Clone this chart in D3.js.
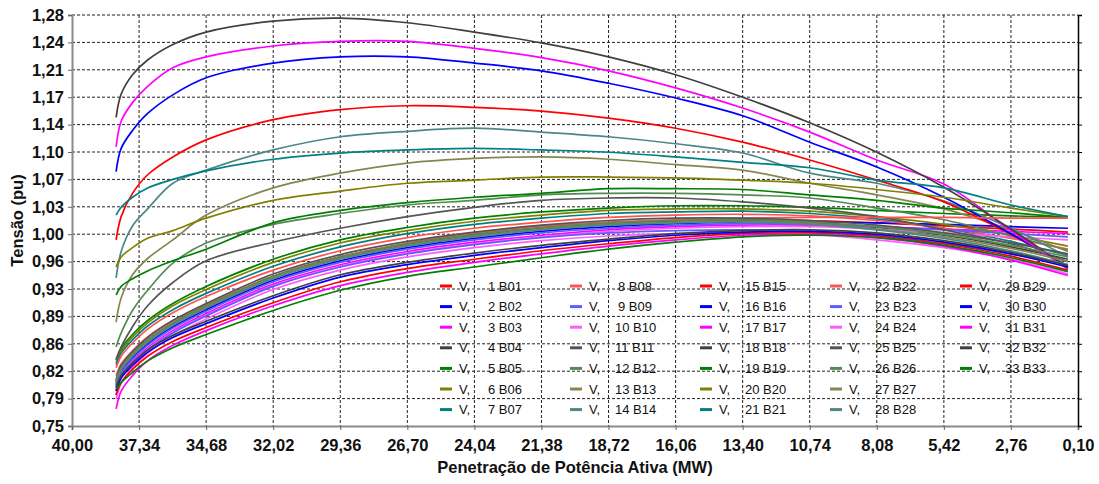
<!DOCTYPE html>
<html>
<head>
<meta charset="utf-8">
<script src="https://cdn.jsdelivr.net/npm/d3@7"></script>
<style>
  body { margin: 0; background: #fff; }
  svg text { font-family: "Liberation Sans", Arial, sans-serif; }
</style>
</head>
<body>
<svg id="grafico" width="1099" height="484"></svg>
<script>
// Penetração de potência ativa (MW) em que cada perfil de tensão foi avaliado
const penetracao = [38.25, 38.05, 37.6, 37.0, 36.0, 34.68, 32.02, 29.36, 26.70, 24.04, 21.38, 18.72, 16.06, 13.40, 10.74, 8.08, 5.42, 2.76, 0.5];

const xTickLabels = ["40,00","37,34","34,68","32,02","29,36","26,70","24,04","21,38","18,72","16,06","13,40","10,74","8,08","5,42","2,76","0,10"];
const yTickLabels = ["0,75","0,79","0,82","0,86","0,89","0,93","0,96","1,00","1,03","1,07","1,10","1,14","1,17","1,21","1,24","1,28"];

// Tensão (pu) em cada barra
const V01 = [0.808, 0.825, 0.843, 0.861, 0.883, 0.905, 0.943, 0.968, 0.985, 0.997, 1.006, 1.012, 1.015, 1.016, 1.015, 1.012, 1.008, 1.004, 1.000];
const V02 = [0.803, 0.820, 0.838, 0.856, 0.878, 0.900, 0.938, 0.963, 0.980, 0.992, 1.001, 1.007, 1.011, 1.013, 1.013, 1.012, 1.010, 1.007, 1.005];
const V03 = [0.798, 0.815, 0.833, 0.851, 0.873, 0.895, 0.933, 0.958, 0.975, 0.987, 0.996, 1.003, 1.007, 1.009, 1.009, 1.007, 1.004, 1.001, 0.998];
const V04 = [0.806, 0.823, 0.841, 0.860, 0.882, 0.904, 0.942, 0.967, 0.984, 0.996, 1.005, 1.011, 1.014, 1.015, 1.012, 1.006, 0.996, 0.981, 0.965];
const V05 = [0.835, 0.850, 0.868, 0.886, 0.908, 0.930, 0.965, 0.990, 1.006, 1.018, 1.026, 1.031, 1.034, 1.034, 1.032, 1.028, 1.024, 1.021, 1.019];
const V06 = [0.832, 0.847, 0.865, 0.883, 0.905, 0.926, 0.961, 0.986, 1.002, 1.014, 1.022, 1.028, 1.030, 1.030, 1.027, 1.020, 1.010, 0.996, 0.982];
const V07 = [0.829, 0.844, 0.861, 0.879, 0.900, 0.921, 0.956, 0.981, 0.998, 1.010, 1.018, 1.024, 1.026, 1.027, 1.024, 1.017, 1.005, 0.988, 0.970];
const V08 = [0.825, 0.840, 0.857, 0.875, 0.896, 0.917, 0.951, 0.976, 0.993, 1.005, 1.013, 1.019, 1.022, 1.023, 1.021, 1.015, 1.005, 0.992, 0.978];
const V09 = [0.800, 0.818, 0.836, 0.854, 0.876, 0.898, 0.936, 0.961, 0.978, 0.990, 0.999, 1.005, 1.009, 1.011, 1.010, 1.007, 1.003, 0.998, 0.994];
const V10 = [0.790, 0.812, 0.831, 0.849, 0.871, 0.893, 0.931, 0.956, 0.973, 0.985, 0.994, 1.001, 1.005, 1.007, 1.007, 1.004, 0.999, 0.994, 0.990];
const V11 = [0.836, 0.852, 0.878, 0.905, 0.935, 0.963, 0.987, 1.005, 1.020, 1.032, 1.041, 1.044, 1.044, 1.039, 1.031, 1.020, 1.003, 0.985, 0.962];
const V12 = [0.852, 0.870, 0.899, 0.925, 0.960, 0.986, 1.010, 1.024, 1.035, 1.041, 1.048, 1.050, 1.050, 1.048, 1.044, 1.031, 1.016, 0.995, 0.977];
const V13 = [0.884, 0.915, 0.945, 0.966, 0.990, 1.022, 1.057, 1.076, 1.089, 1.095, 1.097, 1.094, 1.087, 1.080, 1.063, 1.048, 1.030, 1.003, 0.975];
const V14 = [0.941, 0.975, 1.008, 1.030, 1.063, 1.080, 1.106, 1.123, 1.130, 1.134, 1.129, 1.123, 1.114, 1.102, 1.076, 1.063, 1.040, 1.005, 0.968];
const V15 = [0.990, 1.020, 1.050, 1.074, 1.097, 1.119, 1.145, 1.158, 1.163, 1.161, 1.156, 1.147, 1.134, 1.116, 1.093, 1.067, 1.039, 0.997, 0.955];
const V16 = [1.078, 1.108, 1.131, 1.153, 1.177, 1.199, 1.218, 1.226, 1.226, 1.218, 1.208, 1.192, 1.173, 1.150, 1.116, 1.084, 1.045, 0.998, 0.956];
const V17 = [1.110, 1.143, 1.167, 1.188, 1.212, 1.226, 1.240, 1.246, 1.246, 1.237, 1.225, 1.208, 1.186, 1.160, 1.129, 1.093, 1.062, 1.002, 0.952];
const V18 = [1.148, 1.178, 1.203, 1.222, 1.242, 1.258, 1.272, 1.276, 1.270, 1.258, 1.244, 1.226, 1.203, 1.174, 1.141, 1.103, 1.058, 1.004, 0.954];
const V19 = [0.919, 0.930, 0.940, 0.950, 0.963, 0.978, 1.012, 1.028, 1.038, 1.045, 1.050, 1.056, 1.056, 1.055, 1.048, 1.041, 1.031, 1.025, 1.019];
const V20 = [0.955, 0.968, 0.980, 0.992, 1.002, 1.018, 1.041, 1.053, 1.063, 1.067, 1.071, 1.071, 1.070, 1.067, 1.063, 1.055, 1.045, 1.031, 1.020];
const V21 = [1.022, 1.032, 1.045, 1.057, 1.068, 1.079, 1.094, 1.102, 1.106, 1.108, 1.106, 1.103, 1.097, 1.090, 1.083, 1.067, 1.057, 1.035, 1.020];
const V22 = [0.815, 0.830, 0.847, 0.865, 0.886, 0.907, 0.942, 0.968, 0.986, 0.999, 1.008, 1.013, 1.016, 1.018, 1.019, 1.019, 1.019, 1.018, 1.018];
const V23 = [0.795, 0.812, 0.830, 0.848, 0.870, 0.892, 0.930, 0.955, 0.972, 0.984, 0.993, 0.999, 1.002, 1.003, 1.001, 0.995, 0.985, 0.972, 0.958];
const V24 = [0.785, 0.805, 0.825, 0.844, 0.866, 0.888, 0.926, 0.951, 0.968, 0.980, 0.989, 0.995, 0.998, 0.999, 0.997, 0.990, 0.980, 0.965, 0.946];
const V25 = [0.810, 0.828, 0.846, 0.864, 0.886, 0.908, 0.946, 0.971, 0.988, 1.000, 1.009, 1.015, 1.018, 1.018, 1.015, 1.009, 0.999, 0.986, 0.972];
const V26 = [0.808, 0.825, 0.843, 0.861, 0.883, 0.905, 0.943, 0.968, 0.985, 0.997, 1.006, 1.012, 1.015, 1.016, 1.013, 1.007, 0.997, 0.983, 0.968];
const V27 = [0.806, 0.823, 0.841, 0.859, 0.881, 0.903, 0.941, 0.966, 0.983, 0.995, 1.004, 1.010, 1.013, 1.014, 1.011, 1.004, 0.994, 0.979, 0.962];
const V28 = [0.804, 0.822, 0.840, 0.858, 0.880, 0.902, 0.940, 0.965, 0.982, 0.994, 1.003, 1.009, 1.012, 1.013, 1.010, 1.003, 0.992, 0.976, 0.958];
const V29 = [0.790, 0.806, 0.823, 0.840, 0.859, 0.877, 0.909, 0.936, 0.953, 0.965, 0.976, 0.985, 0.993, 0.998, 0.999, 0.995, 0.985, 0.969, 0.951];
const V30 = [0.795, 0.812, 0.828, 0.845, 0.864, 0.882, 0.915, 0.942, 0.958, 0.970, 0.980, 0.989, 0.996, 1.000, 1.001, 0.997, 0.987, 0.972, 0.955];
const V31 = [0.772, 0.795, 0.815, 0.834, 0.854, 0.873, 0.905, 0.931, 0.948, 0.961, 0.972, 0.982, 0.990, 0.996, 0.997, 0.993, 0.982, 0.964, 0.944];
const V32 = [0.800, 0.815, 0.831, 0.848, 0.867, 0.885, 0.918, 0.945, 0.961, 0.973, 0.983, 0.991, 0.998, 1.002, 1.003, 0.999, 0.989, 0.974, 0.957];
const V33 = [0.797, 0.806, 0.819, 0.834, 0.851, 0.868, 0.899, 0.925, 0.943, 0.955, 0.967, 0.978, 0.987, 0.994, 0.996, 0.993, 0.983, 0.967, 0.949];

const tensoes = [V01, V02, V03, V04, V05, V06, V07, V08, V09, V10, V11, V12, V13, V14, V15, V16, V17,
                 V18, V19, V20, V21, V22, V23, V24, V25, V26, V27, V28, V29, V30, V31, V32, V33];
const barras = tensoes.map((_, i) => String(i + 1).padStart(2, "0"));

// Paleta: cores puras e versões atenuadas alternando a cada sete barras
const corPura = ["#ff0000", "#0000ff", "#ff00ff", "#404040", "#008000", "#808000", "#008080"];
const corSuave = ["#ff5252", "#5c5cff", "#ff5cff", "#555555", "#558a55", "#85854f", "#4f8787"];
const corDaBarra = i => (Math.floor(i / 7) % 2 === 1 ? corSuave : corPura)[i % 7];

const svg = d3.select("#grafico");
const area = { left: 72, right: 1078, top: 15, bottom: 426 };

const x = d3.scaleLinear().domain([40, 0.10]).range([area.left, area.right]);
const y = d3.scaleLinear().domain([0.75, 1.28]).range([area.bottom, area.top]);

const xTicks = xTickLabels.map(s => +s.replace(",", "."));
const yTicks = d3.range(yTickLabels.length).map(i => 0.75 + i * (1.28 - 0.75) / (yTickLabels.length - 1));

// Grade pontilhada
const grade = svg.append("g");
grade.selectAll("line.v").data(xTicks.slice(1, -1)).join("line")
  .attr("x1", d => x(d)).attr("x2", d => x(d))
  .attr("y1", area.top).attr("y2", area.bottom)
  .attr("stroke", "#222").attr("stroke-width", 1).attr("stroke-dasharray", "3,2");
grade.selectAll("line.h").data(yTicks.slice(1)).join("line")
  .attr("x1", area.left).attr("x2", area.right)
  .attr("y1", d => y(d)).attr("y2", d => y(d))
  .attr("stroke", "#222").attr("stroke-width", 1).attr("stroke-dasharray", "3,2");

// Eixos
const eixoY = d3.axisLeft(y).tickValues(yTicks).tickFormat((d, i) => yTickLabels[i]).tickSize(4).tickPadding(4);
const eixoX = d3.axisBottom(x).tickValues(xTicks).tickFormat((d, i) => xTickLabels[i]).tickSize(4).tickPadding(9);
const eixoDir = d3.axisRight(y).tickValues(yTicks).tickFormat("").tickSize(4);

const gy = svg.append("g").attr("transform", `translate(${area.left},0)`).call(eixoY);
const gx = svg.append("g").attr("transform", `translate(0,${area.bottom})`).call(eixoX);
const gd = svg.append("g").attr("transform", `translate(${area.right},0)`).call(eixoDir);

[gy, gx].forEach(g => {
  g.select(".domain").attr("stroke", "#8a8a8a").attr("stroke-width", 2);
  g.selectAll(".tick line").attr("stroke", "#666");
  g.selectAll(".tick text").attr("font-size", 16.5).attr("font-weight", "bold").attr("fill", "#111")
    .attr("font-family", "'Liberation Sans', Arial, sans-serif");
});
gd.select(".domain").attr("stroke", "#000").attr("stroke-width", 1.5);
gd.selectAll(".tick line").attr("stroke", "#000");

// Títulos dos eixos
svg.append("text")
  .attr("x", (area.left + area.right) / 2).attr("y", 473)
  .attr("text-anchor", "middle").attr("font-size", 16.5).attr("font-weight", "bold").attr("fill", "#111")
  .text("Penetração de Potência Ativa (MW)");
svg.append("text")
  .attr("transform", `translate(23,${(area.top + area.bottom) / 2}) rotate(-90)`)
  .attr("text-anchor", "middle").attr("font-size", 16.5).attr("font-weight", "bold").attr("fill", "#111")
  .text("Tensão (pu)");

// Curvas de tensão
const linha = d3.line()
  .x((d, i) => x(penetracao[i]))
  .y(d => y(d))
  .curve(d3.curveCatmullRom.alpha(0.5));

svg.append("g").selectAll("path").data(tensoes).join("path")
  .attr("d", linha)
  .attr("fill", "none")
  .attr("stroke", (d, i) => corDaBarra(i))
  .attr("stroke-width", 1.7);

// Legenda em cinco colunas
const colX = [440, 570, 700, 830, 960];
const linhaY0 = 286, passoY = 20.6;
const leg = svg.append("g").selectAll("g").data(barras).join("g")
  .attr("transform", (d, i) => `translate(${colX[Math.floor(i / 7)]},${linhaY0 + (i % 7) * passoY})`);
leg.append("line").attr("x1", 0).attr("x2", 12).attr("y1", 0).attr("y2", 0)
  .attr("stroke", (d, i) => corDaBarra(i)).attr("stroke-width", 3);
leg.append("text").attr("x", 19).attr("y", 4.5).attr("font-size", 13).attr("fill", "#111").text("V,");
leg.append("text").attr("x", (d, i) => i < 9 ? 48 : 45).attr("y", 4.5).attr("font-size", 13).attr("fill", "#111")
  .text(d => `${+d} B${d}`);
</script>
</body>
</html>
